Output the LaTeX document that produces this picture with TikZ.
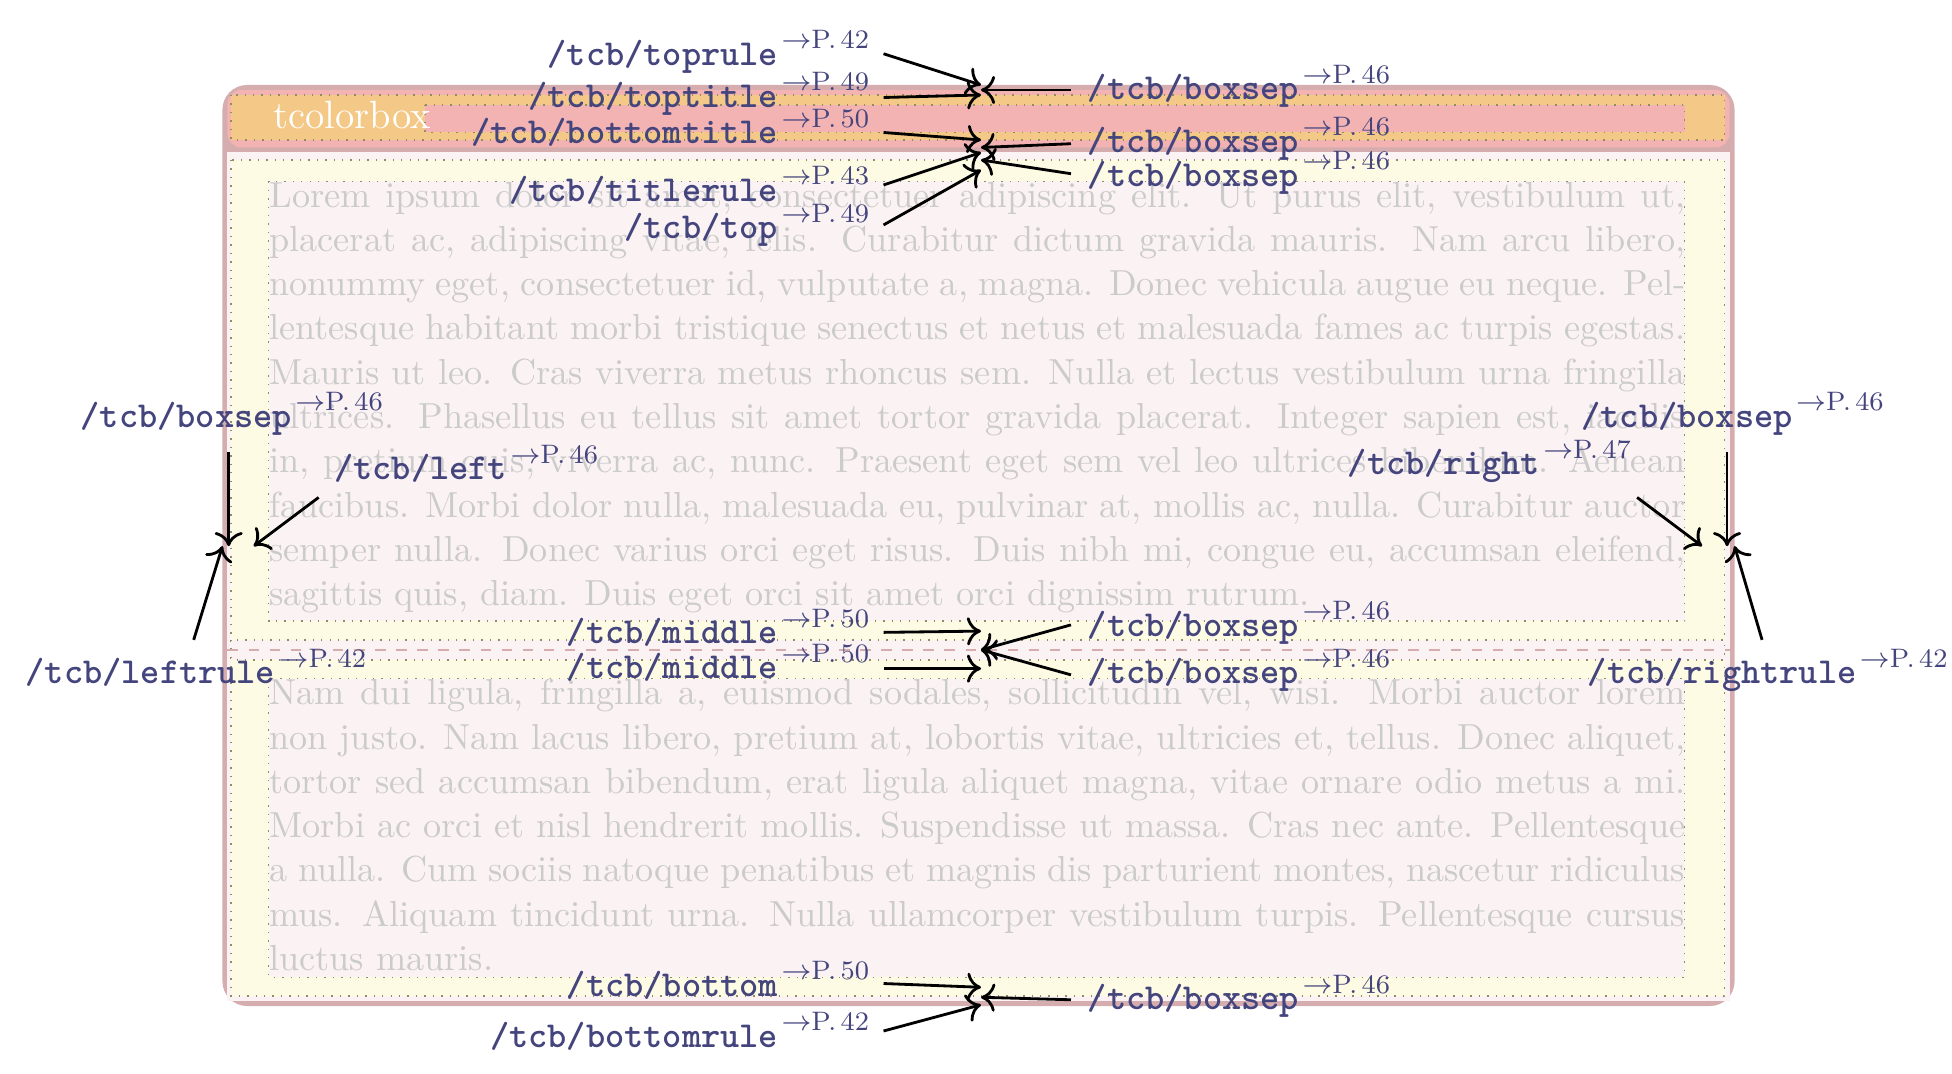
\documentclass[tikz,border=0pt]{standalone}
\usepackage{tikz}
\usetikzlibrary{arrows.meta}
\usetikzlibrary{positioning}
\definecolor{rulecol}{HTML}{D5ADAF}
\definecolor{titlecol}{HTML}{F3B3B3}
\definecolor{orangecol}{HTML}{F4C987}
\definecolor{sepcol}{HTML}{FDFBE3}
\definecolor{bodycol}{HTML}{FBF2F3}
\definecolor{lorem}{HTML}{CBCBCB}
\definecolor{mblue}{HTML}{45457E}
\tikzset{lbl/.style = {mblue, inner sep = 0, font = \fontsize{10.4}{12}\selectfont\ttfamily\bfseries}}
\tikzset{dots/.style = {draw = gray!70!olive, dotted, line width = 0.4pt}}
\tikzset{arr/.style = {-{To[length=4pt,width=8pt]}, line width = 0.8pt}}
\tikzset{body/.style = {lorem, anchor = north west, inner sep = 0, text width = 1133*0.0125cm,
                        align = justify, font = \fontsize{10.3}{12.6}\selectfont}}
\newcommand{\pref}[1]{\kern1pt\raisebox{1.05ex}{\fontsize{7.6}{8}\selectfont\rmfamily\mdseries$\to$P.\,#1}}
\begin{document}
\begin{tikzpicture}[x=0.0125cm, y=-0.0125cm]
      \useasboundingbox (0, 0) rectangle (1562, 859);
      % frame
      \fill [rulecol, rounded corners = 7] (178, 68) rectangle (1388, 805);
      \fill [titlecol, rounded corners = 4] (182, 72) rectangle (1384, 118);
      \fill [bodycol] (182, 122) rectangle (1384, 801);
      \fill [orangecol, dots] (185, 76) rectangle (1380, 112);
      \fill [titlecol, dots] (340, 84) rectangle (1348, 106);
      \node [white, anchor = base west, inner sep = 0, font = \fontsize{11.2}{12}\selectfont]
        (title) at (218, 103) {tcolorbox};
      \fill [sepcol, dots] (185, 128) rectangle (1380, 797);
      \fill [bodycol, dots] (185, 512) rectangle (1380, 528);
      \draw [rulecol, dashed] (182, 520) -- (1384, 520);
      \fill [bodycol, dots] (215, 145) rectangle (1348, 497);
      \fill [bodycol, dots] (215, 543) rectangle (1348, 782);
      % body text
      \node [body] (upper) at (215, 145)
        {\hyphenpenalty=10000\relax Lorem ipsum dolor sit amet, consectetuer adipiscing elit. Ut purus elit, vestibulum ut, placerat ac, adipiscing vitae, felis. Curabitur dictum gravida mauris. Nam arcu libero, nonummy eget, consectetuer id, vulputate a, magna. Donec vehicula augue eu neque. Pellentesque habitant morbi tristique senectus et netus et malesuada fames ac turpis egestas. Mauris ut leo. Cras viverra metus rhoncus sem. Nulla et lectus vestibulum urna fringilla ultrices. Phasellus eu tellus sit amet tortor gravida placerat. Integer sapien est, iaculis in, pretium quis, viverra ac, nunc. Praesent eget sem vel leo ultrices bibendum. Aenean faucibus. Morbi dolor nulla, malesuada eu, pulvinar at, mollis ac, nulla. Curabitur auctor semper nulla. Donec varius orci eget risus. Duis nibh mi, congue eu, accumsan eleifend, sagittis quis, diam. Duis eget orci sit amet orci dignissim rutrum.};
      \node [body] (lower) at (215, 543)
        {\hyphenpenalty=10000\relax Nam dui ligula, fringilla a, euismod sodales, sollicitudin vel, wisi. Morbi auctor lorem non justo. Nam lacus libero, pretium at, lobortis vitae, ultricies et, tellus. Donec aliquet, tortor sed accumsan bibendum, erat ligula aliquet magna, vitae ornare odio metus a mi. Morbi ac orci et nisl hendrerit mollis. Suspendisse ut massa. Cras nec ante. Pellentesque a nulla. Cum sociis natoque penatibus et magnis dis parturient montes, nascetur ridiculus mus. Aliquam tincidunt urna. Nulla ullamcorper vestibulum turpis. Pellentesque cursus luctus mauris.};
      % labels on the left of the middle column
      \node [lbl, anchor = base east] (toprule) at (696, 52) {/tcb/toprule\pref{42}};
      \node [lbl, anchor = base east] (toptitle) at (696, 86) {/tcb/toptitle\pref{49}};
      \node [lbl, anchor = base east] (bottomtitle) at (696, 115) {/tcb/bottomtitle\pref{50}};
      \node [lbl, anchor = base east] (titlerule) at (696, 161) {/tcb/titlerule\pref{43}};
      \node [lbl, anchor = base east] (top) at (696, 191) {/tcb/top\pref{49}};
      \node [lbl, anchor = base east] (middleA) at (696, 515) {/tcb/middle\pref{50}};
      \node [lbl, anchor = base east] (middleB) at (696, 543) {/tcb/middle\pref{50}};
      \node [lbl, anchor = base east] (bottom) at (696, 797) {/tcb/bottom\pref{50}};
      \node [lbl, anchor = base east] (bottomrule) at (696, 838) {/tcb/bottomrule\pref{42}};
      % labels on the right of the middle column
      \node [lbl, anchor = base west] (sepA) at (870, 80) {/tcb/boxsep\pref{46}};
      \node [lbl, anchor = base west] (sepB) at (870, 122) {/tcb/boxsep\pref{46}};
      \node [lbl, anchor = base west] (sepC) at (870, 149) {/tcb/boxsep\pref{46}};
      \node [lbl, anchor = base west] (sepD) at (870, 509) {/tcb/boxsep\pref{46}};
      \node [lbl, anchor = base west] (sepE) at (870, 547) {/tcb/boxsep\pref{46}};
      \node [lbl, anchor = base west] (sepF) at (870, 808) {/tcb/boxsep\pref{46}};
      % side labels
      \node [lbl, anchor = base west] (sepL) at (64, 342) {/tcb/boxsep\pref{46}};
      \node [lbl, anchor = base west] (left) at (267, 384) {/tcb/left\pref{46}};
      \node [lbl, anchor = base west] (leftrule) at (20, 547) {/tcb/leftrule\pref{42}};
      \node [lbl, anchor = base west] (sepR) at (1265, 342) {/tcb/boxsep\pref{46}};
      \node [lbl, anchor = base west] (right) at (1078, 380) {/tcb/right\pref{47}};
      \node [lbl, anchor = base west] (rightrule) at (1270, 547) {/tcb/rightrule\pref{42}};
      % arrow ends
      \coordinate (tA) at (785, 68);
      \coordinate (tB) at (785, 76);
      \coordinate (tC) at (785, 72);
      \coordinate (tD) at (785, 112);
      \coordinate (tE) at (785, 118);
      \coordinate (tF) at (785, 122);
      \coordinate (tG) at (785, 128);
      \coordinate (tH) at (785, 136);
      \coordinate (mA) at (785, 505);
      \coordinate (mB) at (785, 520);
      \coordinate (mC) at (785, 535);
      \coordinate (bA) at (785, 790);
      \coordinate (bB) at (785, 798);
      \coordinate (bC) at (785, 804);
      \coordinate (lA) at (183, 437);
      \coordinate (lB) at (203, 437);
      \coordinate (lC) at (178, 437);
      \coordinate (rA) at (1382, 437);
      \coordinate (rB) at (1362, 437);
      \coordinate (rC) at (1388, 437);
      % arrows
      \draw [arr] (707, 43) -- (tA);
      \draw [arr] (707, 78) -- (tB);
      \draw [arr] (857, 72) -- (tC);
      \draw [arr] (707, 106) -- (tD);
      \draw [arr] (857, 115) -- (tE);
      \draw [arr] (707, 148) -- (tF);
      \draw [arr] (857, 139) -- (tG);
      \draw [arr] (707, 180) -- (tH);
      \draw [arr] (707, 506) -- (mA);
      \draw [arr] (857, 500) -- (mB);
      \draw [arr] (857, 540) -- (mB);
      \draw [arr] (707, 535) -- (mC);
      \draw [arr] (707, 787) -- (bA);
      \draw [arr] (857, 800) -- (bB);
      \draw [arr] (707, 825) -- (bC);
      \draw [arr] (183, 362) -- (lA);
      \draw [arr] (255, 398) -- (lB);
      \draw [arr] (155, 512) -- (lC);
      \draw [arr] (1382, 362) -- (rA);
      \draw [arr] (1310, 398) -- (rB);
      \draw [arr] (1410, 512) -- (rC);
    \end{tikzpicture}
\end{document}
